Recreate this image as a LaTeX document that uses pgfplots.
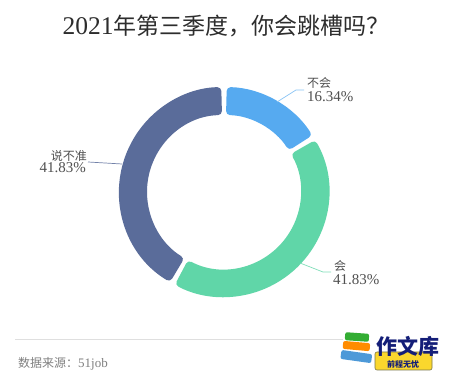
\documentclass[border=0pt]{standalone}
\usepackage{pgfplots}
\pgfplotsset{compat=1.18}
\usepackage{pgfplotstable}
\usepackage{fontspec}
\setmainfont{Liberation Serif}
\newfontfamily\cjk{Noto Sans CJK SC}
\definecolor{cBlue}{RGB}{86,170,240}
\definecolor{cGreen}{RGB}{96,214,168}
\definecolor{cDark}{RGB}{90,108,154}
\definecolor{lblGray}{RGB}{80,80,80}
\definecolor{titleGray}{RGB}{45,45,45}
\definecolor{logoNavy}{RGB}{20,30,120}
\definecolor{logoYellow}{RGB}{250,215,45}

\pgfplotstableread{
idx value
0 16.34
1 41.83
2 41.83
}\piedata

\begin{document}
\begin{tikzpicture}[x=1pt,y=1pt]
\fill[white] (0,0) rectangle (450,383);
\path[use as bounding box] (0,0) rectangle (450,383);
% angles from data (clockwise from top)
\pgfplotstablegetelem{0}{value}\of\piedata \let\vA\pgfplotsretval
\pgfplotstablegetelem{1}{value}\of\piedata \let\vB\pgfplotsretval
\pgfplotstablegetelem{2}{value}\of\piedata \let\vC\pgfplotsretval
\pgfmathsetmacro\gapang{1.5}
\pgfmathsetmacro\aA{90}
\pgfmathsetmacro\aB{\aA-3.6*\vA}
\pgfmathsetmacro\aC{\aB-3.6*\vB}
\pgfmathsetmacro\aD{\aC-3.6*\vC}
\pgfmathsetmacro\sA{\aA-\gapang}\pgfmathsetmacro\eA{\aB+\gapang}
\pgfmathsetmacro\sB{\aB-\gapang}\pgfmathsetmacro\eB{\aC+\gapang}
\pgfmathsetmacro\sC{\aC-\gapang}\pgfmathsetmacro\eC{\aD+\gapang}
\begin{axis}[hide axis, scale only axis, width=210pt, height=210pt,
  xmin=-1, xmax=1, ymin=-1, ymax=1, clip=false,
  at={(224pt,191pt)}, anchor=origin]
\fill[cBlue, rounded corners=4pt] (axis cs:0,0) ++(\sA:105pt) arc[start angle=\sA, end angle=\eA, radius=105pt] -- ++({\eA+180}:28pt) arc[start angle=\eA, end angle=\sA, radius=77pt] -- cycle;
\fill[cGreen, rounded corners=4pt] (axis cs:0,0) ++(\sB:105pt) arc[start angle=\sB, end angle=\eB, radius=105pt] -- ++({\eB+180}:28pt) arc[start angle=\eB, end angle=\sB, radius=77pt] -- cycle;
\fill[cDark, rounded corners=4pt] (axis cs:0,0) ++(\sC:105pt) arc[start angle=\sC, end angle=\eC, radius=105pt] -- ++({\eC+180}:28pt) arc[start angle=\eC, end angle=\sC, radius=77pt] -- cycle;
\end{axis}
% leader lines
\draw[cBlue!70, line width=0.7pt] (277,281) -- (296,293) -- (304,293);
\draw[cDark!85, line width=0.7pt] (88,221) -- (122,219);
\draw[cGreen!80, line width=0.7pt] (300,120) -- (323,111) -- (331,111);
% labels
\node[anchor=base west, inner sep=0, text=lblGray, font=\cjk\fontsize{12}{12}\selectfont] at (307,295) {不会};
\node[anchor=base west, inner sep=0, text=lblGray, font=\fontsize{15}{15}\selectfont] at (307,281) {16.34\%};
\node[anchor=base east, inner sep=0, text=lblGray, font=\cjk\fontsize{12}{12}\selectfont] at (87,222) {说不准};
\node[anchor=base east, inner sep=0, text=lblGray, font=\fontsize{15}{15}\selectfont] at (86,210) {41.83\%};
\node[anchor=base west, inner sep=0, text=lblGray, font=\cjk\fontsize{12}{12}\selectfont] at (334,112) {会};
\node[anchor=base west, inner sep=0, text=lblGray, font=\fontsize{15}{15}\selectfont] at (333,98) {41.83\%};
% title
\node[anchor=base, inner sep=0, text=titleGray] at (226,348) {\fontsize{25.5}{25.5}\selectfont 2021{\cjk\fontsize{23}{25}\selectfont 年第三季度，你会跳槽吗？}};
% footer
\draw[gray!25, line width=0.6pt] (15,44) -- (343,44);
\node[anchor=base west, inner sep=0, text=gray] at (18,16) {{\cjk\fontsize{12}{12}\selectfont 数据来源：}\fontsize{13}{13}\selectfont 51job};
% logo
\begin{scope}
\fill[rounded corners=2pt, fill=cBlue!90!black, rotate around={-8:(356,28)}] (341,22) rectangle (372,31);
\fill[rounded corners=2pt, fill=orange!90!yellow, rotate around={-5:(356,38)}] (343,33) rectangle (370,41);
\fill[rounded corners=2pt, fill=green!60!black!80, rotate around={-4:(357,46)}] (345,42) rectangle (369,50);
\fill[rounded corners=2pt, fill=logoYellow, draw=black!60!yellow, line width=0.6pt] (375,13) rectangle (432,31);
\node[inner sep=0, text=logoNavy, font=\cjk\bfseries\fontsize{8}{8}\selectfont] at (403,19) {前程无忧};
\node[inner sep=0, text=logoNavy, font=\cjk\bfseries\fontsize{21}{21}\selectfont] at (408,37) {作文库};
\end{scope}
\end{tikzpicture}
\end{document}
